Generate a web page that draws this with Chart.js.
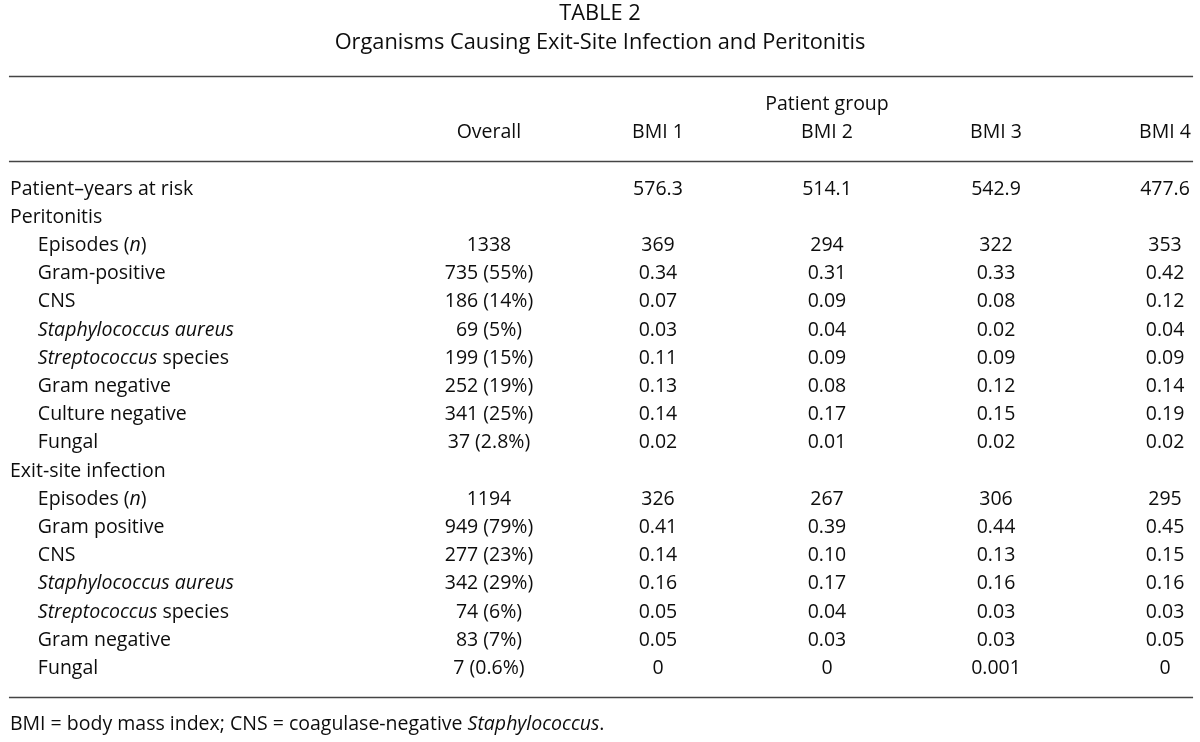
<!DOCTYPE html>
<html>
<head>
<meta charset="utf-8">
<script src="https://cdn.jsdelivr.net/npm/chart.js@4.4.1/dist/chart.umd.min.js"></script>
<style>
  html, body { margin: 0; padding: 0; background: #fff; }
  #wrap { width: 1200px; height: 742px; }
</style>
</head>
<body>
<div id="wrap"><canvas id="table-chart"></canvas></div>
<script>
// Table data (italic parts marked with *...*)
const titleText = 'TABLE 2';
const subtitleText = 'Organisms Causing Exit-Site Infection and Peritonitis';
const groupHeader = 'Patient group';
const columns = ['Overall', 'BMI 1', 'BMI 2', 'BMI 3', 'BMI 4'];
const rowLabels = [
    'Patient\u2013years at risk', 'Peritonitis', 'Episodes (*n*)', 'Gram-positive', 'CNS',
    '*Staphylococcus aureus*', '*Streptococcus* species', 'Gram negative', 'Culture negative', 'Fungal',
    'Exit-site infection', 'Episodes (*n*)', 'Gram positive', 'CNS', '*Staphylococcus aureus*',
    '*Streptococcus* species', 'Gram negative', 'Fungal'
];
const rowIndent = [0, 0, 1, 1, 1, 1, 1, 1, 1, 1, 0, 1, 1, 1, 1, 1, 1, 1];
const overall = ['', '', '1338', '735 (55%)', '186 (14%)', '69 (5%)', '199 (15%)', '252 (19%)', '341 (25%)', '37 (2.8%)',
    '', '1194', '949 (79%)', '277 (23%)', '342 (29%)', '74 (6%)', '83 (7%)', '7 (0.6%)'];
const bmi1 = ['576.3', '', '369', '0.34', '0.07', '0.03', '0.11', '0.13', '0.14', '0.02',
    '', '326', '0.41', '0.14', '0.16', '0.05', '0.05', '0'];
const bmi2 = ['514.1', '', '294', '0.31', '0.09', '0.04', '0.09', '0.08', '0.17', '0.01',
    '', '267', '0.39', '0.10', '0.17', '0.04', '0.03', '0'];
const bmi3 = ['542.9', '', '322', '0.33', '0.08', '0.02', '0.09', '0.12', '0.15', '0.02',
    '', '306', '0.44', '0.13', '0.16', '0.03', '0.03', '0.001'];
const bmi4 = ['477.6', '', '353', '0.42', '0.12', '0.04', '0.09', '0.14', '0.19', '0.02',
    '', '295', '0.45', '0.15', '0.16', '0.03', '0.05', '0'];
const footnote = 'BMI = body mass index; CNS = coagulase-negative *Staphylococcus*.';

const columnValues = [overall, bmi1, bmi2, bmi3, bmi4];

// Layout in scale units: columns 0..4, rows 0..17
const FONT = '"Open Sans", Lato, sans-serif';
const WEIGHT = '500 ';
const FONT_SIZE = 19.5;
const TITLE_SIZE = 21.8;
const LABEL_X = -2.834;
const INDENT_X = -2.669;
const RULE_FROM = -2.840;
const RULE_TO = 4.166;

// One point per cell, placed through the scales
const cellPoints = [];
columnValues.forEach(function(col, c) {
    col.forEach(function(v, r) {
        if (v !== '') cellPoints.push({ x: c, y: r, text: v });
    });
});
const headerPoints = columns.map(function(name, c) { return { x: c, y: -2, text: name }; });
const labelPoints = rowLabels.map(function(name, r) {
    return { x: rowIndent[r] ? INDENT_X : LABEL_X, y: r, text: name };
});

function drawRich(ctx, text, x, y, align, size) {
    size = size || FONT_SIZE;
    const parts = text.split('*');
    let total = 0;
    parts.forEach(function(p, i) {
        ctx.font = (i % 2 ? 'italic ' : '') + WEIGHT + size + 'px ' + FONT;
        total += ctx.measureText(p).width;
    });
    let cx = align === 'center' ? x - total / 2 : x;
    ctx.textAlign = 'left';
    parts.forEach(function(p, i) {
        ctx.font = (i % 2 ? 'italic ' : '') + WEIGHT + size + 'px ' + FONT;
        ctx.fillText(p, cx, y);
        cx += ctx.measureText(p).width;
    });
}

const tablePlugin = {
    id: 'tableText',
    afterDatasetsDraw: function(chart) {
        const ctx = chart.ctx;
        const xs = chart.scales.x;
        const ys = chart.scales.y;
        ctx.save();
        ctx.fillStyle = '#0d0d0d';
        ctx.textBaseline = 'middle';

        chart.data.datasets.forEach(function(ds, di) {
            const meta = chart.getDatasetMeta(di);
            meta.data.forEach(function(el, i) {
                drawRich(ctx, ds.data[i].text, el.x, el.y, ds.align);
            });
        });

        const midX = (xs.left + xs.right) / 2;
        drawRich(ctx, titleText, midX, ys.getPixelForValue(-6.2), 'center', TITLE_SIZE);
        drawRich(ctx, subtitleText, midX, ys.getPixelForValue(-5.2), 'center', TITLE_SIZE);
        drawRich(ctx, groupHeader, xs.getPixelForValue(2), ys.getPixelForValue(-3), 'center');
        drawRich(ctx, footnote, xs.getPixelForValue(LABEL_X), ys.getPixelForValue(19), 'left');

        // horizontal rules
        ctx.strokeStyle = '#444';
        ctx.lineWidth = 1.4;
        [-4, -1, 18].forEach(function(r) {
            const y = Math.round(ys.getPixelForValue(r)) + 0.5;
            ctx.beginPath();
            ctx.moveTo(xs.getPixelForValue(RULE_FROM), y);
            ctx.lineTo(xs.getPixelForValue(RULE_TO), y);
            ctx.stroke();
        });
        ctx.restore();
    }
};

new Chart(document.getElementById('table-chart'), {
    type: 'scatter',
    data: {
        datasets: [
            { label: 'cells', data: cellPoints, align: 'center', pointRadius: 0 },
            { label: 'headers', data: headerPoints, align: 'center', pointRadius: 0 },
            { label: 'rows', data: labelPoints, align: 'left', pointRadius: 0 }
        ]
    },
    options: {
        responsive: true,
        maintainAspectRatio: false,
        animation: false,
        layout: { padding: 0 },
        plugins: { legend: { display: false }, tooltip: { enabled: false } },
        scales: {
            x: { type: 'linear', display: false, min: -2.893, max: 4.207 },
            y: { type: 'linear', display: false, reverse: true, min: -6.702, max: 19.61 }
        }
    },
    plugins: [tablePlugin]
});
</script>
</body>
</html>
